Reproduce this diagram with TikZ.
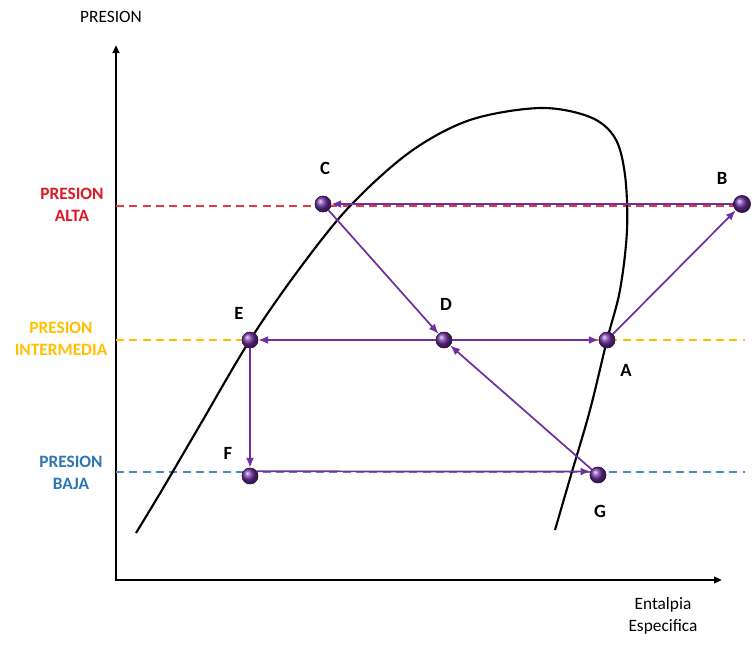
\documentclass[tikz,border=0pt]{standalone}
\usepackage{fontspec}
\setmainfont{Carlito}
\usepackage{xcolor}
\usepackage{tikz}
\usetikzlibrary{arrows.meta}
\definecolor{morado}{RGB}{112,48,160}
\definecolor{rojo}{RGB}{222,24,36}
\definecolor{amarillo}{RGB}{255,192,0}
\definecolor{azul}{RGB}{46,117,182}
\tikzset{
  pto/.style    = {circle, ball color=morado, draw=morado!45!black,
                   line width=0.3pt, minimum size=12pt, inner sep=0pt},
  flecha/.style = {-{Latex[length=7.5pt,width=6pt]}, morado, line width=1.3pt},
  nivel/.style  = {dash pattern=on 6pt off 4pt, line width=1pt},
  eje/.style    = {{Triangle[length=6pt,width=5pt]}-{Triangle[length=6pt,width=5pt]},
                   line width=1.5pt},
  lbl/.style    = {font=\fontsize{14}{16}\selectfont\bfseries, inner sep=0pt},
  txt/.style    = {font=\fontsize{13}{16.5}\selectfont, align=center, inner sep=0pt},
}
\begin{document}
\begin{tikzpicture}[x=0.75pt, y=-0.75pt]
\useasboundingbox (0,0) rectangle (753,647);

% ejes
\coordinate (O) at (116,580);
\coordinate (ytop) at (116,45);
\coordinate (xend) at (722,580);
\draw[eje] (ytop) -- (O) -- (xend);
\node[txt] (ty) at (111,17) {PRESION};
\node[txt] (tx) at (663,616) {Entalpia\\Especifica};

% niveles de presion
\draw[nivel, rojo!85!white] (116,206) -- (740,206);
\draw[nivel, amarillo] (116,340) -- (745,340);
\draw[nivel, azul!85!white] (116,472) -- (745,472);
\node[txt, text=rojo, font=\fontsize{13}{16.5}\selectfont\bfseries] (palta) at (72,205) {PRESION\\ALTA};
\node[txt, text=amarillo, font=\fontsize{13}{16.5}\selectfont\bfseries] (pint) at (61,339) {PRESION\\INTERMEDIA};
\node[txt, text=azul, font=\fontsize{13}{16.5}\selectfont\bfseries] (pbaja) at (71,473) {PRESION\\BAJA};

% campana
\draw[line width=1.6pt] plot[smooth, tension=0.55] coordinates {
  (136,533) (162,490) (200,425) (250,340) (300,268) (350,206) (410,152)
  (470,120) (540,108) (590,117) (615,138) (625,175) (627,230) (620,290)
  (607,340) (590,410) (571,475) (555,530)};

% puntos
\node[pto] (C) at (323,204) {};
\node[pto, minimum size=13pt] (B) at (742,204) {};
\node[pto] (E) at (250,340) {};
\node[pto] (D) at (444,340) {};
\node[pto] (A) at (607,340) {};
\node[pto] (F) at (250,476) {};
\node[pto] (G) at (598,475) {};

\node[lbl] (lC) at (325,168) {C};
\node[lbl] (lB) at (722,178) {B};
\node[lbl] (lE) at (239,313) {E};
\node[lbl] (lD) at (446,304) {D};
\node[lbl] (lA) at (626,370) {A};
\node[lbl] (lF) at (228,453) {F};
\node[lbl] (lG) at (600,511) {G};

% ciclo
\draw[flecha] (B) -- (C);
\draw[flecha] (C) -- (D);
\draw[flecha] (D) -- (E);
\draw[flecha] (D) -- (A);
\draw[flecha] (A) -- (B);
\draw[flecha] (E) -- (F);
\draw[flecha] (F.35) -- (G.155);
\draw[flecha] (G) -- (D);

% bolas encima
\foreach \p in {C,B,E,D,A,F,G}
  \node[pto, minimum size=12pt] at (\p) {};
\end{tikzpicture}
\end{document}
